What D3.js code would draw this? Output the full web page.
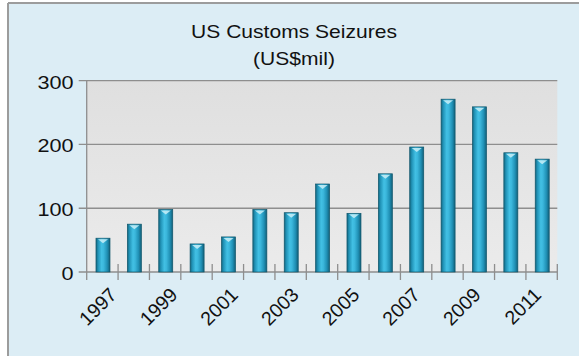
<!DOCTYPE html>
<html><head><meta charset="utf-8">
<script src="https://cdn.jsdelivr.net/npm/d3@7"></script>
<style>html,body{margin:0;padding:0;background:#fff;}svg{display:block;}</style>
</head><body>
<script>
const years = ["1997","1998","1999","2000","2001","2002","2003","2004","2005","2006","2007","2008","2009","2010","2011"];
const values = [53,75,98,44,55,98,93,138,92,154,196,271,259,187,177];
const yTicks = [0,100,200,300];
const labelYears = ["1997","1999","2001","2003","2005","2007","2009","2011"];
const titleLines = ["US Customs Seizures","(US$mil)"];

const W = 579, H = 356;
const svg = d3.select("body").append("svg").attr("width", W).attr("height", H);
const defs = svg.append("defs");

const bg = defs.append("linearGradient").attr("id","plotbg").attr("x1",0).attr("y1",0).attr("x2",0).attr("y2",1);
bg.append("stop").attr("offset","0%").attr("stop-color","#dfdfdf");
bg.append("stop").attr("offset","100%").attr("stop-color","#ebebeb");

const bar = defs.append("linearGradient").attr("id","bargrad").attr("x1",0).attr("y1",0).attr("x2",1).attr("y2",0);
[["0%","#13667f"],["15%","#2193b7"],["40%","#42c0e4"],["55%","#3bb7dc"],["80%","#2090b5"],["100%","#125f78"]]
  .forEach(([o,c]) => bar.append("stop").attr("offset",o).attr("stop-color",c));

// panel
svg.append("rect").attr("x",8).attr("y",3).attr("width",W-8).attr("height",H-3).attr("fill","#dcedf5");
svg.append("line").attr("x1",8).attr("x2",W).attr("y1",3).attr("y2",3).attr("stroke","#9c9c9c").attr("stroke-width",2);
svg.append("line").attr("x1",8).attr("x2",8).attr("y1",3).attr("y2",H).attr("stroke","#9c9c9c").attr("stroke-width",2);

const pL = 86.7, pR = 557.3, pT = 80.7, pB = 272;
const x = d3.scaleBand().domain(years).range([pL, pR]).padding(0);
const y = d3.scaleLinear().domain([0, 300]).range([pB, pT]);
const xl = d3.scalePoint().domain(labelYears).range([118, 542.5]);

svg.append("rect").attr("x",pL).attr("y",pT).attr("width",pR-pL).attr("height",pB-pT).attr("fill","url(#plotbg)");

// gridlines
svg.append("g").selectAll("line").data(yTicks).join("line")
  .attr("x1", pL - 8).attr("x2", pR)
  .attr("y1", d => y(d)).attr("y2", d => y(d))
  .attr("stroke","#8e8e8e").attr("stroke-width",1.3);

// y axis line
svg.append("line").attr("x1",pL).attr("x2",pL).attr("y1",pT).attr("y2",pB+8)
  .attr("stroke","#8e8e8e").attr("stroke-width",1.3);

// x ticks at band boundaries
const bounds = years.map(d => x(d)).concat([pR]);
svg.append("g").selectAll("line").data(bounds.slice(1)).join("line")
  .attr("x1", d => d).attr("x2", d => d)
  .attr("y1", pB - 8).attr("y2", pB + 8)
  .attr("stroke","#8e8e8e").attr("stroke-width",1.3);

// bars
const bw = 14;
const g = svg.append("g");
g.selectAll("rect").data(values).join("rect")
  .attr("x", (d,i) => x(years[i]) + x.bandwidth()/2 - bw/2 + 0.6)
  .attr("y", d => y(d))
  .attr("width", bw)
  .attr("height", d => pB - y(d))
  .attr("fill","url(#bargrad)")
  .attr("stroke","#0f566c").attr("stroke-width",0.7);
// top highlight
g.selectAll("path").data(values).join("path")
  .attr("d", (d,i) => {
    const cx = x(years[i]) + x.bandwidth()/2 + 0.6, ty = y(d) + 1;
    return `M${cx-5},${ty} L${cx+5},${ty} L${cx},${ty+4} Z`;
  })
  .attr("fill","#c9eef7").attr("opacity",0.85);

// y labels
svg.append("g").selectAll("text").data(yTicks).join("text")
  .attr("transform", d => `translate(73.5,${y(d) + 8}) scale(1.17,1)`)
  .attr("text-anchor","end")
  .attr("font-family","Liberation Sans, Arial, sans-serif")
  .attr("font-size",18.5).attr("fill","#111")
  .text(d => d);

// x labels
svg.append("g").selectAll("text").data(labelYears).join("text")
  .attr("transform", d => `translate(${xl(d)},296) rotate(-45)`)
  .attr("text-anchor","end")
  .attr("font-family","Liberation Sans, Arial, sans-serif")
  .attr("font-size",19.5).attr("fill","#111")
  .text(d => d);

// title
svg.append("g").selectAll("text").data(titleLines).join("text")
  .attr("transform", (d,i) => `translate(294,${i === 0 ? 38.3 : 64.5}) scale(1.17,1)`)
  .attr("text-anchor","middle")
  .attr("font-family","Liberation Sans, Arial, sans-serif")
  .attr("font-size",18).attr("fill","#111")
  .text(d => d);
</script>
</body></html>
